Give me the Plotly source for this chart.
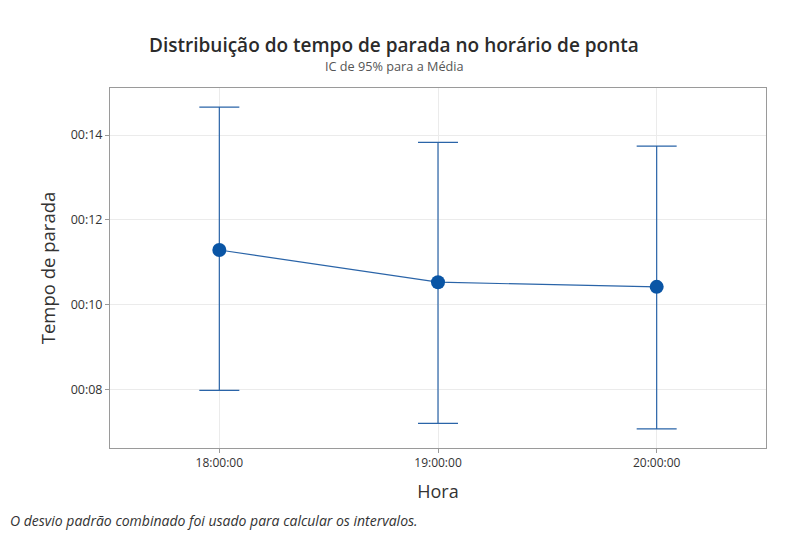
import plotly.graph_objects as go

horas = ["18:00:00", "19:00:00", "20:00:00"]
media = [11.29, 10.53, 10.42]
ic_sup = [14.66, 13.83, 13.74]
ic_inf = [7.98, 7.20, 7.07]
y_tickvals = [8, 10, 12, 14]
y_ticktext = ["00:08", "00:10", "00:12", "00:14"]

err_plus = [u - m for u, m in zip(ic_sup, media)]
err_minus = [m - l for m, l in zip(media, ic_inf)]

FONT = "Open Sans"
PW = 656.0   # plot area width (px)
PH = 360.0   # plot area height (px)

fig = go.Figure()
fig.add_trace(go.Scatter(
    x=horas, y=media, mode="lines+markers",
    line=dict(color="#2a64a8", width=1.2),
    marker=dict(color="#0a55a5", size=14),
    error_y=dict(type="data", symmetric=False, array=err_plus, arrayminus=err_minus,
                 color="#2a64a8", thickness=1.2, width=20),
    showlegend=False,
))

fig.update_layout(
    width=781, height=526,
    margin=dict(l=102, r=23, t=80, b=86),
    paper_bgcolor="white", plot_bgcolor="white",
    font=dict(family=FONT, color="#333333"),
    xaxis=dict(
        type="category", range=[-0.5, 2.5],
        showgrid=True, gridcolor="#ebebeb", gridwidth=1,
        showline=True, linecolor="#9a9a9a", linewidth=1, mirror=True,
        ticks="outside", ticklen=4, tickcolor="#9a9a9a",
        tickfont=dict(size=12, color="#333333"),
        title=dict(text="Hora", font=dict(size=18, color="#333333"), standoff=14),
        zeroline=False,
    ),
    yaxis=dict(
        range=[6.62, 15.11],
        tickvals=y_tickvals, ticktext=y_ticktext,
        showgrid=True, gridcolor="#ebebeb", gridwidth=1,
        showline=True, linecolor="#9a9a9a", linewidth=1, mirror=True,
        ticks="outside", ticklen=4, tickcolor="#9a9a9a",
        tickfont=dict(size=12.5, color="#333333"),
        title=dict(text="Tempo de parada", font=dict(size=18.5, color="#333333"), standoff=10),
        zeroline=False,
    ),
)

fig.add_annotation(
    text="Distribuição do tempo de parada no horário de ponta",
    xref="paper", yref="paper", x=0.5 - 44/PW, y=1 + (88 - 45) / PH,
    xanchor="center", yanchor="middle", showarrow=False,
    font=dict(size=19, color="#2b2b2b", family=FONT, weight=600),
)
fig.add_annotation(
    text="IC de 95% para a Média",
    xref="paper", yref="paper", x=0.5 - 44/PW, y=1 + (88 - 66) / PH,
    xanchor="center", yanchor="middle", showarrow=False,
    font=dict(size=12.7, color="#555555", family=FONT),
)
fig.add_annotation(
    text="<i>O desvio padrão combinado foi usado para calcular os intervalos.</i>",
    xref="paper", yref="paper", x=-102/PW, y=-(520 - 448) / PH,
    xanchor="left", yanchor="middle", showarrow=False,
    font=dict(size=14, color="#333333", family=FONT),
)

fig.write_html("out.html")
